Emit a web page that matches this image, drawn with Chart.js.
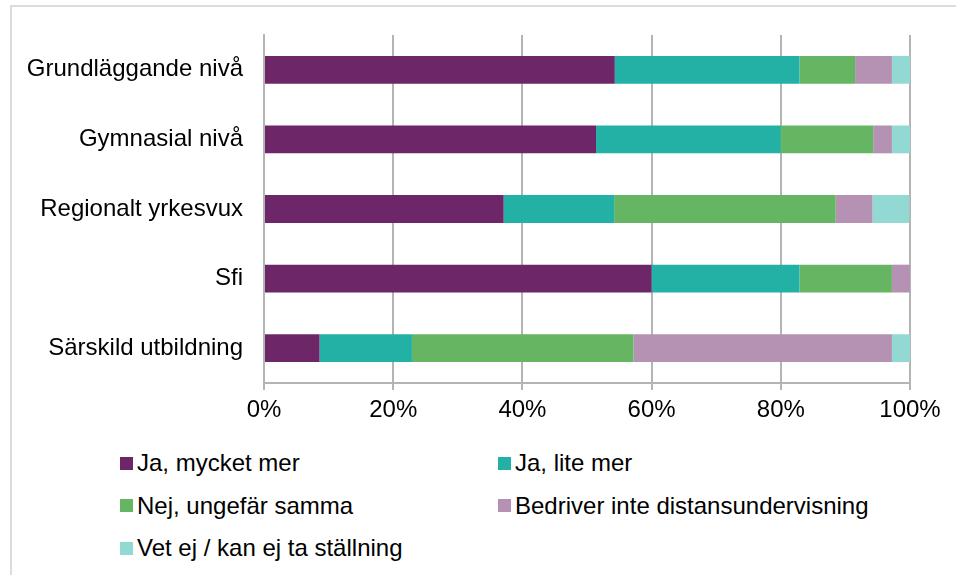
<!DOCTYPE html>
<html lang="sv">
<head>
    <meta charset="UTF-8">
    <title>Distansundervisning</title>
    <script src="https://cdn.jsdelivr.net/npm/chart.js"></script>
    <style>
        body { margin: 0; background: #fff; overflow: hidden; font-family: "Liberation Sans", Arial, sans-serif; }
        #frame { position: absolute; left: 10px; top: 5px; width: 2000px; height: 2000px; border: 2px solid #dcdcdc; }
        #chart { position: absolute; left: 0; top: 0; }
        #legend { position: absolute; left: 120px; top: 442px; display: grid; grid-template-columns: 378px auto; grid-auto-rows: 42.5px; }
        .item { display: flex; align-items: center; font-size: 24px; color: #000; }
        .box { width: 13px; height: 13px; margin-right: 4px; flex: none; }
    </style>
</head>
<body>
    <div id="frame"></div>
    <canvas id="chart" width="956" height="430"></canvas>
    <div id="legend"></div>
    <script>
        // answers in percent, five groups
        const categories = ['Grundläggande nivå', 'Gymnasial nivå', 'Regionalt yrkesvux', 'Sfi', 'Särskild utbildning'];
        const seriesNames = ['Ja, mycket mer', 'Ja, lite mer', 'Nej, ungefär samma', 'Bedriver inte distansundervisning', 'Vet ej / kan ej ta ställning'];
        const jaMycket = [54.3, 51.4, 37.1, 60.0, 8.6];
        const jaLite = [28.6, 28.6, 17.1, 22.9, 14.3];
        const nejSamma = [8.6, 14.3, 34.3, 14.3, 34.3];
        const bedriverInte = [5.7, 2.9, 5.7, 2.9, 40.0];
        const vetEj = [2.9, 2.9, 5.7, 0, 2.9];
        const tickValues = [0, 20, 40, 60, 80, 100];

        const colors = ['#6d2769', '#23b1a5', '#66b562', '#b592b4', '#92d9d3'];
        const values = [jaMycket, jaLite, nejSamma, bedriverInte, vetEj];
        const gridColor = '#b4b4b4';

        const ctx = document.getElementById('chart').getContext('2d');
        const chart = new Chart(ctx, {
            type: 'bar',
            data: {
                labels: categories,
                datasets: seriesNames.map((name, i) => ({
                    label: name,
                    data: values[i],
                    backgroundColor: colors[i],
                    borderWidth: 0,
                    barPercentage: 0.4,
                    categoryPercentage: 1
                }))
            },
            options: {
                indexAxis: 'y',
                responsive: false,
                animation: false,
                layout: { padding: { top: 35, right: 46, left: 0, bottom: 0 } },
                plugins: { legend: { display: false }, tooltip: { enabled: false } },
                scales: {
                    x: {
                        stacked: true,
                        min: 0,
                        max: 100,
                        afterBuildTicks: s => { s.ticks = tickValues.map(v => ({ value: v })); },
                        afterFit: s => { s.height = 47; },
                        grid: { color: gridColor, lineWidth: 2, tickLength: 7, tickColor: gridColor },
                        border: { color: gridColor, width: 2 },
                        ticks: {
                            color: '#000',
                            padding: 6,
                            font: { family: 'Liberation Sans', size: 24 },
                            callback: v => v + '%'
                        }
                    },
                    y: {
                        stacked: true,
                        afterFit: s => { s.width = 264; },
                        grid: { display: false },
                        border: { display: true, color: gridColor, width: 2 },
                        ticks: {
                            color: '#000',
                            padding: 13,
                            font: { family: 'Liberation Sans', size: 24 }
                        }
                    }
                }
            }
        });

        // legend in two columns like the original
        const legend = document.getElementById('legend');
        chart.data.datasets.forEach(ds => {
            const item = document.createElement('div');
            item.className = 'item';
            item.innerHTML = '<span class="box" style="background:' + ds.backgroundColor + '"></span>' + ds.label;
            legend.appendChild(item);
        });
    </script>
</body>
</html>
